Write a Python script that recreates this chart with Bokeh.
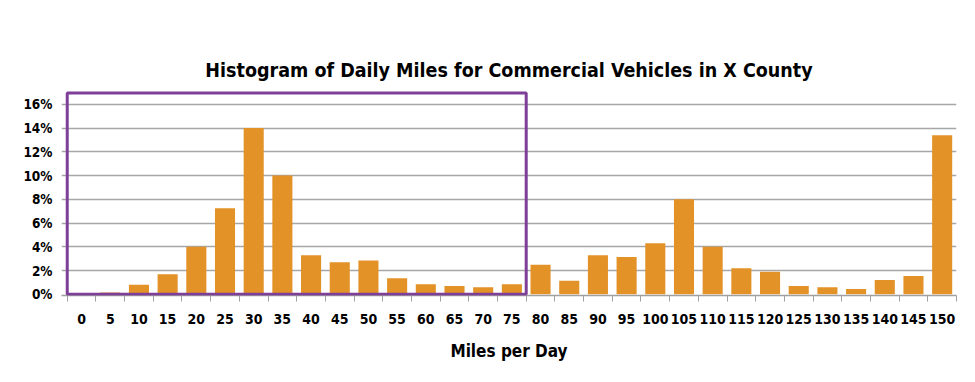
from bokeh.plotting import figure
from bokeh.models import Range1d, FixedTicker, PrintfTickFormatter, BoxAnnotation
from bokeh.embed import file_html
from bokeh.resources import INLINE

# ---- data ----
miles = ["0", "5", "10", "15", "20", "25", "30", "35", "40", "45", "50", "55", "60", "65", "70", "75",
         "80", "85", "90", "95", "100", "105", "110", "115", "120", "125", "130", "135", "140", "145", "150"]
share_pct = [0.05, 0.15, 0.8, 1.7, 4.0, 7.25, 14.0, 10.0, 3.3, 2.7, 2.85, 1.35, 0.85, 0.7, 0.6, 0.85,
             2.5, 1.15, 3.3, 3.15, 4.3, 8.0, 4.0, 2.2, 1.9, 0.7, 0.6, 0.45, 1.2, 1.55, 13.4]
y_ticks = [0, 2, 4, 6, 8, 10, 12, 14, 16]
highlight_from, highlight_to = "0", "75"

FONT = "DejaVu Sans Condensed"
xs = list(range(len(miles)))

p = figure(width=959, height=366, output_backend="svg", toolbar_location=None,
           x_range=Range1d(-0.7, len(miles) - 0.5), y_range=Range1d(-0.1, 17.5),
           min_border_left=61, min_border_right=3, min_border_top=86, min_border_bottom=71)
p.outline_line_color = None

p.vbar(x=xs, top=share_pct, bottom=0, width=0.7, color="#E39228", line_color=None)

# highlight box
box = BoxAnnotation(left=miles.index(highlight_from) - 0.5, right=miles.index(highlight_to) + 0.5,
                    bottom=0, top=y_ticks[-1] + 0.95, fill_color=None, fill_alpha=0,
                    line_color="#7E3F98", line_alpha=1.0, line_width=3)
p.add_layout(box)

p.title.text = "Histogram of Daily Miles for Commercial Vehicles in X County"
p.title.text_font = FONT
p.title.text_font_size = "19.5px"
p.title.text_font_style = "bold"
p.title.align = "center"
p.title.text_color = "black"
p.title.standoff = 10

# x axis
p.xaxis.ticker = FixedTicker(ticks=xs, minor_ticks=[i - 0.5 for i in range(len(miles) + 1)])
p.xaxis.major_label_overrides = {i: m for i, m in enumerate(miles)}
p.xaxis.major_tick_line_color = None
p.xaxis.major_tick_out = 0
p.xaxis.minor_tick_out = 6
p.xaxis.minor_tick_in = 0
p.xaxis.minor_tick_line_color = "#A0A0A0"
p.xaxis.minor_tick_line_width = 1
p.xaxis.axis_line_color = "#A0A0A0"
p.xaxis.axis_line_width = 1.5
p.xaxis.major_label_text_font = FONT
p.xaxis.major_label_text_font_size = "14px"
p.xaxis.major_label_text_font_style = "bold"
p.xaxis.major_label_text_color = "black"
p.xaxis.major_label_standoff = 12
p.xaxis.axis_label = "Miles per Day"
p.xaxis.axis_label_text_font = FONT
p.xaxis.axis_label_text_font_size = "17px"
p.xaxis.axis_label_text_font_style = "bold"
p.xaxis.axis_label_text_color = "black"
p.xaxis.axis_label_standoff = 14

# y axis
p.yaxis.ticker = FixedTicker(ticks=y_ticks)
p.yaxis.formatter = PrintfTickFormatter(format="%d%%")
p.yaxis.axis_line_color = None
p.yaxis.major_tick_out = 0
p.yaxis.major_tick_in = 0
p.yaxis.major_tick_line_color = None
p.yaxis.minor_tick_line_color = None
p.yaxis.major_label_text_font = FONT
p.yaxis.major_label_text_font_size = "13.5px"
p.yaxis.major_label_text_font_style = "bold"
p.yaxis.major_label_text_color = "black"
p.yaxis.major_label_standoff = 9

p.xgrid.grid_line_color = None
p.ygrid.ticker = FixedTicker(ticks=y_ticks[1:])
p.ygrid.grid_line_color = "#A6A6A6"
p.ygrid.grid_line_width = 1.5

open("out.html", "w").write(file_html(p, INLINE))
